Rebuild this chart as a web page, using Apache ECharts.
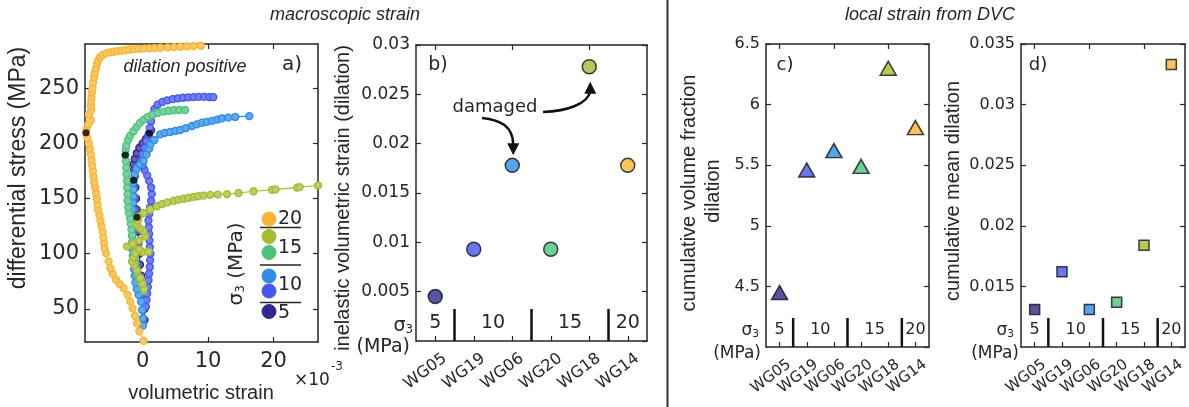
<!DOCTYPE html>
<html><head><meta charset="utf-8">
<script src="https://cdn.jsdelivr.net/npm/echarts@6/dist/echarts.min.js"></script>
<style>html,body{margin:0;padding:0;background:#fff}#c{width:1189px;height:407px}</style>
</head><body><div id="c"></div>
<script>
// ---------------- data ----------------
const specimens = ['WG05','WG19','WG06','WG20','WG18','WG14'];
const sigma3 = [5,10,10,15,15,20];
const inelasticStrain = [0.0045,0.0093,0.0178,0.0093,0.0278,0.0178];
const volFractionDilation = [4.45,5.46,5.62,5.49,6.30,5.81];
const meanDilation = [0.0131,0.0162,0.0131,0.0137,0.0184,0.0333];

// panel a: [volumetric strain (x1e-3), differential stress (MPa)]
const wg05Curve = [[0.3,40],[0.3,50],[0.2,60],[0.0,70],[-0.2,80],[-0.4,90],[-0.5,100],[-0.6,110],[-0.7,120],[-0.8,130],[-0.9,140],[-1.0,150],[-1.1,160],[-1.2,170],[-1.3,176],[-1.4,181],[-1.2,186],[-0.9,191],[-0.5,196],[0.0,200],[0.5,204],[1.0,209],[1.3,212]];
const wg19Curve = [[0.5,52],[0.6,58],[0.7,64],[0.8,70],[0.9,76],[1.0,82],[1.1,88],[1.15,94],[1.2,100],[1.1,106],[1.05,112],[1.0,118],[0.95,124],[0.9,130],[1.0,136],[1.15,142],[1.3,148],[1.4,154],[1.3,160],[1.0,166],[0.7,171],[0.3,176],[0.0,180],[-0.2,184],[0.0,190],[0.3,196],[0.6,202],[0.9,208],[1.1,214],[1.3,220],[1.5,226],[1.8,231],[2.3,235],[3.0,237.5],[3.8,239],[4.6,240],[5.4,240.8],[6.2,241.3],[7.0,241.6],[7.8,241.9],[8.6,242.1],[9.4,242.1],[10.2,241.9],[10.8,241.8]];
const wg06Curve = [[0.06,35],[0.06,41.5],[-0.09,49],[-0.24,56.6],[-0.61,62.7],[-0.9,68],[-1.1,74],[-1.2,80],[-1.3,86],[-1.4,92],[-1.5,98],[-1.55,104],[-1.6,110],[-1.6,116],[-1.6,122],[-1.55,128],[-1.5,134],[-1.5,140],[-1.45,146],[-1.4,152],[-1.4,158],[-1.4,164],[-1.37,167],[-1.2,172],[-0.9,177],[-0.4,181],[0.15,184],[0.6,190],[1.0,195],[1.18,199],[1.8,203],[2.7,208.2],[3.4,209.5],[4.23,210.3],[5.0,211.2],[5.76,212.1],[6.6,213.8],[7.54,215.7],[8.3,217.2],[9.07,218.7],[9.8,219.5],[10.6,220.3],[11.4,221.5],[12.12,222.7],[13.1,223.3],[14.15,223.9],[16.3,224.6]];
const wg20Curve = [[0.15,66],[0.0,70],[-0.3,74],[-0.6,78],[-0.8,82],[-1.0,87],[-1.1,92],[-1.2,97],[-1.3,102],[-1.4,107],[-1.5,112],[-1.6,117],[-1.7,122],[-1.8,127],[-1.9,132],[-2.1,137],[-2.2,142],[-2.3,148],[-2.3,154],[-2.35,160],[-2.4,166],[-2.45,172],[-2.5,178],[-2.55,184],[-2.64,189.4],[-2.6,194],[-2.5,198],[-2.2,203],[-1.9,207],[-1.4,211],[-0.9,215],[-0.4,218.5],[0.2,221.5],[0.8,224],[1.5,226],[2.3,227.5],[3.2,228.7],[4.0,229.5],[4.8,230],[5.6,230.2],[6.5,230.2]];
const wg18Curve = [[0.2,68],[0.0,73],[-0.35,78],[-0.86,85],[-1.3,90],[-1.62,93],[-1.4,97],[-1.11,100.5],[0.0,101.5],[0.92,102],[-0.5,104],[-2.38,106.6],[-1.5,109],[-0.5,112],[0.41,115.7],[0.15,120.3],[-0.4,123],[-0.86,126.4],[-0.7,130],[-0.61,133.9],[0.15,136.9],[1.18,140],[2.2,143],[3.0,145],[3.8,146.5],[4.73,148],[5.5,149],[6.26,149.8],[7.0,150.5],[7.79,151.5],[8.5,152.1],[9.3,152.7],[10.34,153.3],[11.5,153.6],[12.9,154],[14.66,155],[16.95,156.6],[19.75,157.8],[20.3,158.2],[23.6,159.9],[24.0,160.3],[26.8,161.8]];
const wg14Curve = [[0.15,21],[-0.5,29.7],[-0.85,36.9],[-1.16,43.6],[-1.53,50.5],[-1.88,56.6],[-2.29,62.7],[-2.9,68.7],[-3.5,72.5],[-4.06,76.4],[-4.58,81.8],[-4.93,86.9],[-5.19,93],[-5.59,100.5],[-5.8,105],[-5.9,110],[-6.0,115],[-6.1,120],[-6.3,125],[-6.45,130],[-6.6,135],[-6.8,140],[-6.9,145],[-7.0,150],[-7.1,155],[-7.25,160],[-7.4,165],[-7.5,170],[-7.6,175],[-7.7,180],[-7.8,185],[-7.9,190],[-8.05,195],[-8.2,200],[-8.45,205],[-8.64,209.5],[-8.55,213],[-8.3,217],[-7.9,221],[-8.2,226],[-7.85,230],[-7.9,234],[-7.85,238],[-7.8,242],[-7.75,246],[-7.65,250],[-7.55,255],[-7.4,260],[-7.3,264],[-7.1,268],[-6.95,272],[-6.8,275],[-6.5,278],[-6.1,280],[-5.6,281.5],[-5.0,282.5],[-4.4,283],[-3.8,283.5],[-3.2,284],[-2.6,284.5],[-2.0,285],[-1.3,285.3],[-0.6,285.6],[0.2,285.8],[1.0,286],[1.8,286.3],[2.7,286.6],[3.8,286.9],[4.8,287.2],[5.8,287.5],[6.8,287.8],[7.8,288.1],[8.9,288.4]];
const onsetPoints = [[-8.64,209.5],[-2.64,189.4],[1.02,209.1],[-1.37,166.5],[-0.86,133]];

const strainTicks = [0,10,20];
const stressTicks = [50,100,150,200,250];
const legendGroups = ['20','15','10','5'];

// ---------------- styles ----------------
const COLORS = ['#30288F','#4356EE','#2C8CE6','#4CC27C','#A9BA30','#F6B634'];
const AX = '#262626';
const FH = 'DejaVu Sans', FV = 'Liberation Sans';
function tint(hex, t){const n=parseInt(hex.slice(1),16);const c=[n>>16,(n>>8)&255,n&255].map(v=>Math.round(v+(255-v)*t));return `rgb(${c.join(',')})`;}

const tick = (extra)=>Object.assign({show:true,inside:true,length:5,lineStyle:{color:AX,width:1.2}},extra||{});
const aLine = {show:true,onZero:false,lineStyle:{color:AX,width:1.5}};
const fmt = v => String(+(+v).toFixed(4));

function valX(grid,min,max,custom,labelSize,top){
  return {gridIndex:grid,type:'value',position:top?'top':'bottom',min,max,axisLine:aLine,
    axisTick:tick({customValues:custom}),splitLine:{show:false},
    axisLabel:top?{show:false}:{customValues:custom,fontSize:labelSize,fontFamily:FH,color:AX,margin:9}};
}
function valY(grid,min,max,opts,right){
  const o={gridIndex:grid,type:'value',position:right?'right':'left',min,max,axisLine:aLine,splitLine:{show:false},
    axisTick:tick(opts.custom?{customValues:opts.custom}:{}),
    axisLabel:right?{show:false}:Object.assign({fontSize:opts.size,fontFamily:FH,color:AX,margin:6,formatter:fmt,showMinLabel:opts.showMin!==false},opts.custom?{customValues:opts.custom}:{})};
  if(opts.interval) o.interval=opts.interval;
  return o;
}
function catX(grid,size,top){
  return {gridIndex:grid,type:'category',data:specimens,boundaryGap:true,position:top?'top':'bottom',axisLine:aLine,
    axisTick:tick({alignWithLabel:true}),splitLine:{show:false},
    axisLabel:top?{show:false}:{rotate:37,fontSize:size,fontFamily:FH,color:AX,margin:23,padding:[0,-12,0,0],interval:0}};
}

const curves = [wg05Curve,wg19Curve,wg06Curve,wg20Curve,wg18Curve,wg14Curve];
const series = curves.map((c,i)=>({
  type:'line',name:specimens[i],xAxisIndex:0,yAxisIndex:0,data:c,symbol:'circle',symbolSize:7,showAllSymbol:true,
  lineStyle:{color:COLORS[i],width:1.2},itemStyle:{color:tint(COLORS[i],0.25),borderColor:COLORS[i],borderWidth:1.3},z:2+i
}));
series.push({type:'scatter',xAxisIndex:0,yAxisIndex:0,data:onsetPoints,symbolSize:7,itemStyle:{color:'#000'},z:20});
const pointStyle = {color:p=>COLORS[p.dataIndex],borderColor:'#111',borderWidth:1.5};
series.push({type:'scatter',xAxisIndex:2,yAxisIndex:2,data:specimens.map((s,i)=>[i,inelasticStrain[i]]),symbol:'circle',symbolSize:14,itemStyle:pointStyle,z:5});
series.push({type:'scatter',xAxisIndex:4,yAxisIndex:4,data:specimens.map((s,i)=>[i,volFractionDilation[i]]),symbol:'triangle',symbolSize:[16,14],itemStyle:pointStyle,z:5});
series.push({type:'scatter',xAxisIndex:6,yAxisIndex:6,data:specimens.map((s,i)=>[i,meanDilation[i]]),symbol:'rect',symbolSize:10,itemStyle:pointStyle,z:5});

const option = {
  animation:false,backgroundColor:'#fff',
  grid:[
    {left:85,top:44,width:233,height:298},
    {left:416,top:45,width:231,height:296},
    {left:766,top:44,width:163,height:303},
    {left:1021,top:44,width:164,height:303}
  ],
  xAxis:[
    valX(0,-8.8,26.8,strainTicks,21,false), valX(0,-8.8,26.8,strainTicks,21,true),
    catX(1,16,false), catX(1,16,true),
    catX(2,15,false), catX(2,15,true),
    catX(3,15,false), catX(3,15,true)
  ],
  yAxis:[
    valY(0,20,290,{custom:stressTicks,size:21},false), valY(0,20,290,{custom:stressTicks},true),
    valY(1,0,0.03,{interval:0.005,size:17,showMin:false},false), valY(1,0,0.03,{interval:0.005},true),
    valY(2,4,6.5,{interval:0.5,size:16,showMin:false},false), valY(2,4,6.5,{interval:0.5},true),
    valY(3,0.01,0.035,{interval:0.005,size:16,showMin:false},false), valY(3,0.01,0.035,{interval:0.005},true)
  ],
  series
};
const chart = echarts.init(document.getElementById('c'),null,{renderer:'canvas'});
chart.setOption(option);

// ---------------- annotations ----------------
const G = [];
function txt(text,x,y,o){o=o||{};G.push({type:'text',x,y,rotation:o.rot||0,z:100,style:{text,fill:o.color||AX,fontSize:o.size||16,fontFamily:o.family||FH,fontStyle:o.italic?'italic':'normal',align:o.align||'center',verticalAlign:o.va||'middle',rich:o.rich}});}
function line(x1,y1,x2,y2,w,c){G.push({type:'line',z:100,shape:{x1,y1,x2,y2},style:{stroke:c||AX,lineWidth:w||1.5}});}
const sig = (s,sub)=>({s:{fontSize:s,fontFamily:FH,fill:AX},u:{fontSize:sub,fontFamily:FH,fill:AX,verticalAlign:'bottom',padding:[6,0,0,0]}});

// titles
txt('macroscopic strain',345,15,{size:18,family:FV,italic:true});
txt('local strain from DVC',930,15,{size:18,family:FV,italic:true});
line(667.5,0,667.5,407,2,'#333');
// axis names
txt('differential stress (MPa)',19,168,{size:23,family:FV,rot:Math.PI/2});
txt('volumetric strain',201,393,{size:20,family:FV});
txt('×10',312,381,{size:17});
txt('-3',331,367,{size:12,align:'left'});
txt('inelastic volumetric strain (dilation)',343,198,{size:20,family:FV,rot:Math.PI/2});
txt('cumulative volume fraction',689,193,{size:20,family:FV,rot:Math.PI/2});
txt('dilation',713,191,{size:20,family:FV,rot:Math.PI/2});
txt('cumulative mean dilation',953,191,{size:20,family:FV,rot:Math.PI/2});
// panel letters
txt('a)',292,65,{size:20});
txt('b)',438,65,{size:19});
txt('c)',785,65,{size:18});
txt('d)',1038,65,{size:18});
txt('dilation positive',185,67,{size:18,family:FV,italic:true});

// legend of panel a
const legY=[219,236.5,252.5,276,291,311.5];
const legC=[5,4,3,2,1,0];
legY.forEach((y,k)=>G.push({type:'circle',z:100,shape:{cx:269,cy:y,r:7},style:{fill:COLORS[legC[k]],stroke:COLORS[legC[k]],lineWidth:1}}));
[219,248,285,313].forEach((y,k)=>txt(legendGroups[k],278,y,{size:19,align:'left'}));
[227.5,265,302.5].forEach(y=>line(260,y,301,y,1.5));
G.push({type:'text',x:237,y:264,rotation:Math.PI/2,z:100,style:{text:'{s|σ}{u|3}{s| (MPa)}',align:'center',verticalAlign:'middle',rich:sig(20,12)}});

// sigma3 group labels for b, c, d
function groups(xi,yi,numSize,sepH,numOff,sigCfg){
  const px = i=>chart.convertToPixel({xAxisIndex:xi},i);
  const yb = chart.convertToPixel({yAxisIndex:yi},option.yAxis[yi].min);
  let start=0;
  for(let i=1;i<=sigma3.length;i++){
    if(i===sigma3.length||sigma3[i]!==sigma3[i-1]){
      const cx=(px(start)+px(i-1))/2;
      txt(String(sigma3[start]),cx,yb-numOff,{size:numSize});
      if(i<sigma3.length){const bx=(px(i-1)+px(i))/2; line(bx,yb,bx,yb-sepH,2.5,'#111');}
      start=i;
    }
  }
  const gl = option.grid[xi/2].left;
  G.push({type:'text',x:gl-sigCfg.sx,y:yb-sigCfg.sy,z:100,style:{text:'{s|σ}{u|3}',align:'right',verticalAlign:'middle',rich:sig(sigCfg.fs,sigCfg.fs*0.62)}});
  txt('(MPa)',gl-sigCfg.mx,yb+sigCfg.my,{size:sigCfg.fs,align:'right'});
}
groups(2,2,19,32,18,{sx:3,sy:15,mx:6,my:6,fs:19});
groups(4,4,16,29,17,{sx:7,sy:16,mx:5,my:7,fs:17});
groups(6,6,16,29,17,{sx:7,sy:16,mx:2,my:7,fs:17});

// "damaged" arrows (panel b)
const pB = i=>chart.convertToPixel({xAxisIndex:2,yAxisIndex:2},[i,inelasticStrain[i]]);
txt('damaged',495,107,{size:18});
const t1=pB(2); const tip1=[t1[0]+1,t1[1]-10];
G.push({type:'bezierCurve',z:100,shape:{x1:482,y1:118,cpx1:500,cpy1:120,cpx2:tip1[0],cpy2:tip1[1]-30,x2:tip1[0],y2:tip1[1]-10},style:{stroke:'#111',lineWidth:2.5,fill:null}});
G.push({type:'polygon',z:100,shape:{points:[[tip1[0],tip1[1]],[tip1[0]-6,tip1[1]-12],[tip1[0]+6,tip1[1]-12]]},style:{fill:'#111'}});
const t2=pB(4); const tip2=[t2[0]+1,t2[1]+15];
G.push({type:'bezierCurve',z:100,shape:{x1:543,y1:112,cpx1:568,cpy1:111,cpx2:tip2[0]-3,cpy2:tip2[1]+22,x2:tip2[0],y2:tip2[1]+10},style:{stroke:'#111',lineWidth:2.5,fill:null}});
G.push({type:'polygon',z:100,shape:{points:[[tip2[0],tip2[1]],[tip2[0]-6,tip2[1]+12],[tip2[0]+6,tip2[1]+12]]},style:{fill:'#111'}});

chart.setOption({graphic:G});
</script></body></html>
